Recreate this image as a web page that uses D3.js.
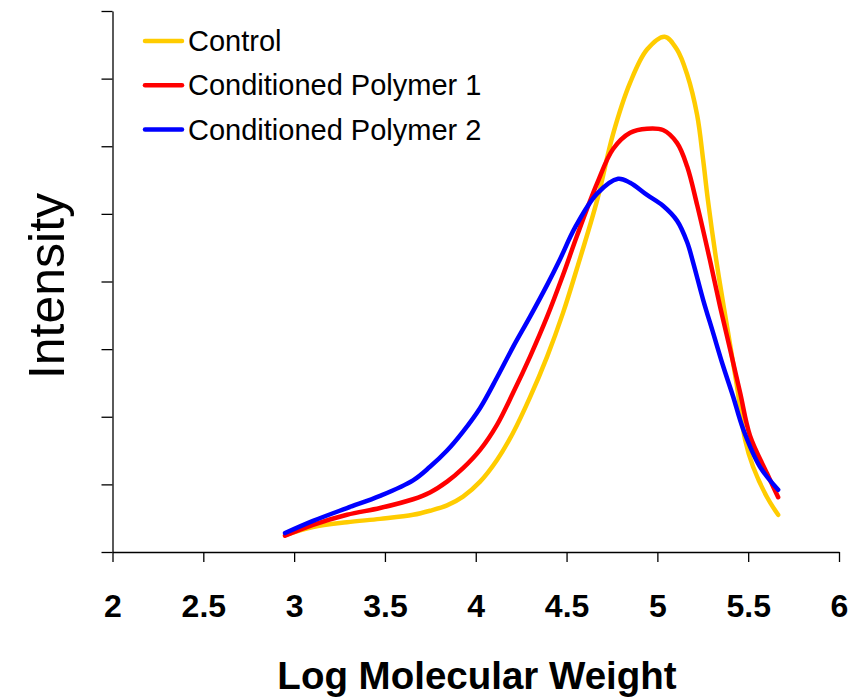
<!DOCTYPE html>
<html>
<head>
<meta charset="utf-8">
<script src="https://cdn.jsdelivr.net/npm/d3@7/dist/d3.min.js"></script>
<style>
  html, body { margin: 0; padding: 0; background: #fff; }
  svg { display: block; font-family: Arial, "Liberation Sans", sans-serif; }
</style>
</head>
<body>
<svg id="chart" width="864" height="699"></svg>
<script>
// ---- Data ----
const seriesNames = ["Control", "Conditioned Polymer 1", "Conditioned Polymer 2"];
const seriesColors = ["#FFCC00", "#FF0000", "#0000FF"];

const controlX = [2.950, 3.104, 3.291, 3.473, 3.655, 3.748, 3.842, 3.930, 4.024, 4.117, 4.205, 4.299, 4.393, 4.481, 4.558, 4.668, 4.756, 4.850, 4.943, 5.040, 5.108, 5.164, 5.219, 5.252, 5.278, 5.329, 5.384, 5.439, 5.483, 5.527, 5.604, 5.665];
const controlY = [0.25, 0.37, 0.44, 0.49, 0.55, 0.61, 0.69, 0.82, 1.04, 1.36, 1.76, 2.29, 2.89, 3.54, 4.20, 5.20, 6.18, 6.94, 7.43, 7.62, 7.43, 7.06, 6.46, 5.80, 5.21, 4.23, 3.33, 2.44, 1.66, 1.26, 0.81, 0.55];

const poly1X = [2.950, 3.104, 3.291, 3.473, 3.655, 3.748, 3.842, 3.930, 4.024, 4.117, 4.205, 4.299, 4.393, 4.481, 4.558, 4.668, 4.756, 4.850, 4.943, 5.031, 5.108, 5.164, 5.219, 5.289, 5.346, 5.401, 5.456, 5.510, 5.604, 5.665];
const poly1Y = [0.24, 0.40, 0.55, 0.65, 0.78, 0.88, 1.04, 1.24, 1.51, 1.88, 2.35, 2.89, 3.48, 4.10, 4.68, 5.45, 5.96, 6.20, 6.26, 6.24, 6.05, 5.70, 5.13, 4.32, 3.62, 2.99, 2.35, 1.72, 1.16, 0.81];

const poly2X = [2.950, 3.104, 3.291, 3.473, 3.655, 3.748, 3.842, 3.930, 4.024, 4.117, 4.205, 4.299, 4.393, 4.464, 4.547, 4.668, 4.784, 4.850, 4.943, 5.031, 5.108, 5.164, 5.197, 5.252, 5.307, 5.362, 5.417, 5.472, 5.565, 5.665];
const poly2Y = [0.28, 0.46, 0.65, 0.83, 1.06, 1.26, 1.50, 1.78, 2.13, 2.58, 3.03, 3.48, 3.95, 4.33, 4.80, 5.30, 5.52, 5.46, 5.28, 5.12, 4.90, 4.58, 4.28, 3.73, 3.24, 2.75, 2.30, 1.82, 1.26, 0.92];

const xTickValues = [2, 2.5, 3, 3.5, 4, 4.5, 5, 5.5, 6];
const yTickValues = [0, 1, 2, 3, 4, 5, 6, 7, 8];
const xTitle = "Log Molecular Weight";
const yTitle = "Intensity";

// ---- Build ----
const series = [
  { name: seriesNames[0], color: seriesColors[0], pts: controlX.map((x, i) => [x, controlY[i]]) },
  { name: seriesNames[1], color: seriesColors[1], pts: poly1X.map((x, i) => [x, poly1Y[i]]) },
  { name: seriesNames[2], color: seriesColors[2], pts: poly2X.map((x, i) => [x, poly2Y[i]]) }
];

const svg = d3.select("#chart");
const x = d3.scaleLinear().domain([2, 6]).range([112.5, 839]);
const y = d3.scaleLinear().domain([0, 8]).range([552, 11]);

// Y axis (no labels)
const yAxis = svg.append("g")
  .attr("transform", `translate(${x(2)},0)`)
  .call(d3.axisLeft(y).tickValues(yTickValues).tickSize(11).tickSizeOuter(0).tickFormat(""));
yAxis.select(".domain").attr("stroke", "#000").attr("stroke-width", 1.3);
yAxis.selectAll(".tick line").attr("stroke", "#000").attr("stroke-width", 1.3);

// X axis
const xAxis = svg.append("g")
  .attr("transform", `translate(0,${y(0)})`)
  .call(d3.axisBottom(x).tickValues(xTickValues).tickSize(10).tickSizeOuter(0).tickPadding(32).tickFormat(d3.format("")));
xAxis.select(".domain").attr("stroke", "#000").attr("stroke-width", 1.3);
xAxis.selectAll(".tick line").attr("stroke", "#000").attr("stroke-width", 1.3);
xAxis.selectAll(".tick text")
  .attr("fill", "#000")
  .style("font-family", "Arial, 'Liberation Sans', sans-serif")
  .style("font-size", "32px")
  .style("font-weight", "bold");

// Lines
const line = d3.line().x(d => x(d[0])).y(d => y(d[1])).curve(d3.curveCatmullRom.alpha(0.5));
svg.append("g").selectAll("path")
  .data(series)
  .join("path")
  .attr("d", d => line(d.pts))
  .attr("fill", "none")
  .attr("stroke", d => d.color)
  .attr("stroke-width", 4.5)
  .attr("stroke-linejoin", "round")
  .attr("stroke-linecap", "round");

// Titles
svg.append("text")
  .attr("x", 477).attr("y", 689)
  .attr("text-anchor", "middle")
  .style("font-size", "38.5px").style("font-weight", "bold")
  .text(xTitle);

svg.append("text")
  .attr("transform", "translate(64,286) rotate(-90)")
  .attr("text-anchor", "middle")
  .style("font-size", "50px")
  .text(yTitle);

// Legend
const legend = svg.append("g");
series.forEach((s, i) => {
  const ly = 41 + i * 44.3;
  legend.append("line")
    .attr("x1", 145).attr("x2", 182).attr("y1", ly).attr("y2", ly)
    .attr("stroke", s.color).attr("stroke-width", 4.5).attr("stroke-linecap", "round");
  legend.append("text")
    .attr("x", 188).attr("y", ly + 10)
    .style("font-size", "29px")
    .text(s.name);
});
</script>
</body>
</html>
